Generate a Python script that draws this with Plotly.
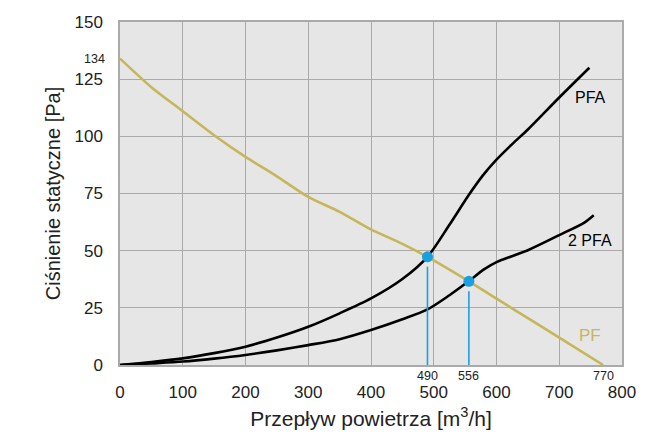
import plotly.graph_objects as go

# PF curve (fan characteristic)
pf_x = [0, 50, 100, 150, 200, 250, 300, 350, 400, 450, 490, 556, 600, 650, 700, 770]
pf_y = [134, 121.5, 111, 100.5, 91, 82.5, 73.5, 67, 59.3, 53, 47.3, 36.6, 29, 20.5, 12, 0]

# PFA curve
pfa_x = [0, 50, 100, 150, 200, 250, 300, 350, 400, 450, 490, 525, 555, 578, 600, 625, 650, 700, 748]
pfa_y = [0, 1.3, 2.9, 5.2, 8.0, 12.0, 16.7, 22.6, 29.1, 37.6, 47.3, 61.3, 74.0, 82.8, 89.8, 96.6, 103, 117, 130]

# 2 PFA curve
tpfa_x = [0, 50, 100, 150, 200, 250, 300, 350, 400, 450, 490, 525, 556, 580, 600, 650, 700, 740, 755]
tpfa_y = [0, 0.7, 1.5, 2.8, 4.4, 6.4, 8.7, 11.3, 15.3, 20.0, 24.3, 30.5, 36.7, 41.8, 45.0, 50.2, 56.8, 62.3, 65.5]

# operating points
op_x = [490, 556]
op_y = [47.3, 36.6]
op_labels = ["490", "556"]

x_ticks = [0, 100, 200, 300, 400, 500, 600, 700, 800]
y_ticks = [0, 25, 50, 75, 100, 125, 150]

KHAKI = "#C6B65A"
BLUE = "#1AA0E0"
FONT = "Liberation Sans, Arial, sans-serif"

fig = go.Figure()
fig.add_trace(go.Scatter(x=pf_x, y=pf_y, mode="lines", line=dict(color=KHAKI, width=2.6, shape="spline", smoothing=0.8), hoverinfo="skip"))
fig.add_trace(go.Scatter(x=pfa_x, y=pfa_y, mode="lines", line=dict(color="black", width=2.6, shape="spline", smoothing=0.8), hoverinfo="skip"))
fig.add_trace(go.Scatter(x=tpfa_x, y=tpfa_y, mode="lines", line=dict(color="black", width=2.6, shape="spline", smoothing=0.8), hoverinfo="skip"))

for xv, yv in zip(op_x, op_y):
    fig.add_shape(type="line", xref="x", yref="y", x0=xv, x1=xv, y0=yv - 4.3, y1=0,
                  line=dict(color=BLUE, width=1.6))

fig.add_trace(go.Scatter(x=op_x, y=op_y, mode="markers", marker=dict(color=BLUE, size=11), hoverinfo="skip"))

for xv, lab in zip(op_x + [770], op_labels + ["770"]):
    fig.add_annotation(x=xv, y=0, xref="x", yref="y", text=lab, showarrow=False,
                       yanchor="top", yshift=-2, font=dict(size=12.5, color="#222", family=FONT))

fig.add_annotation(x=0, y=134, xref="paper", yref="y", text="134", showarrow=False,
                   xanchor="right", xshift=-13, font=dict(size=12.5, color="#222", family=FONT))

fig.add_annotation(x=750, y=117, text="PFA", showarrow=False, font=dict(size=16, color="black", family=FONT))
fig.add_annotation(x=749, y=54.6, text="2 PFA", showarrow=False, font=dict(size=16, color="black", family=FONT))
fig.add_annotation(x=749, y=13, text="PF", showarrow=False, font=dict(size=17, color=KHAKI, family=FONT))

fig.update_layout(
    width=654, height=437,
    margin=dict(l=112, r=40, t=14, b=80, autoexpand=False),
    paper_bgcolor="white",
    plot_bgcolor="#E6E6E6",
    showlegend=False,
    font=dict(family=FONT, color="#222"),
    xaxis=dict(range=[0, 800], tickvals=x_ticks, ticks="", showgrid=True, gridcolor="#AAAAAA", gridwidth=1,
               showline=True, linecolor="#AAAAAA", linewidth=1.5, mirror=True, zeroline=False,
               tickfont=dict(size=17), ticklabelstandoff=11, automargin=False,
               title=dict(text="Przepływ powietrza [m<sup>3</sup>/h]", font=dict(size=21), standoff=10)),
    yaxis=dict(range=[0, 150], tickvals=y_ticks, ticks="", showgrid=True, gridcolor="#AAAAAA", gridwidth=1,
               showline=True, linecolor="#AAAAAA", linewidth=1.5, mirror=True, zeroline=False,
               tickfont=dict(size=17), ticklabelstandoff=12, automargin=False,
               title=dict(text="Ciśnienie statyczne [Pa]", font=dict(size=20), standoff=8)),
)

fig.write_html("out.html")
